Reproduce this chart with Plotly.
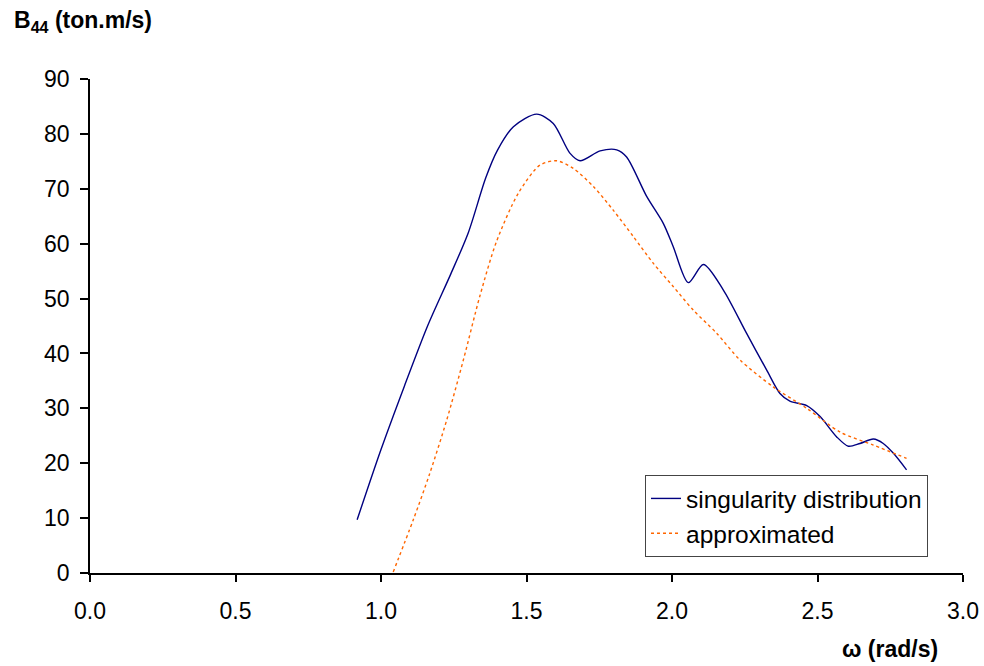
import plotly.graph_objects as go

# singularity distribution
w_sing = [0.918, 1.0, 1.08, 1.16, 1.24, 1.30, 1.36, 1.40, 1.455, 1.535, 1.592, 1.649, 1.684,
          1.753, 1.81, 1.844, 1.913, 1.970, 2.004, 2.056, 2.108, 2.176, 2.256, 2.325, 2.371,
          2.405, 2.463, 2.509, 2.566, 2.606, 2.646, 2.692, 2.726, 2.761, 2.806]
b_sing = [9.7, 22.5, 34.0, 45.0, 54.5, 62.0, 72.0, 77.0, 81.3, 83.6, 81.9, 76.5, 75.1,
          76.9, 77.1, 75.8, 68.6, 63.7, 59.5, 52.9, 56.2, 51.6, 43.7, 37.0, 32.7,
          31.3, 30.5, 28.5, 24.8, 23.1, 23.6, 24.4, 23.6, 21.8, 18.8]

# approximated
w_appr = [1.042, 1.111, 1.168, 1.226, 1.283, 1.340, 1.397, 1.472, 1.546, 1.604,
          1.661, 1.730, 1.798, 1.867, 1.936, 2.004, 2.073, 2.153, 2.234, 2.348, 2.463,
          2.577, 2.692, 2.806]
b_appr = [0.2, 9.7, 18.2, 27.9, 38.8, 50.5, 60.4, 69.2, 74.3, 75.1,
          73.7, 70.4, 66.1, 61.3, 56.4, 52.2, 47.9, 43.7, 38.8, 33.9, 30.0,
          25.7, 23.3, 20.9]

x_ticks = [0.0, 0.5, 1.0, 1.5, 2.0, 2.5, 3.0]
y_ticks = [0, 10, 20, 30, 40, 50, 60, 70, 80, 90]

FONT = "Liberation Sans, Arial, sans-serif"
FS = 23

fig = go.Figure()
fig.add_trace(go.Scatter(x=w_sing, y=b_sing, mode="lines", name="singularity distribution",
                         line=dict(color="#000080", width=1.4, shape="spline", smoothing=0.8)))
fig.add_trace(go.Scatter(x=w_appr, y=b_appr, mode="lines", name="approximated",
                         line=dict(color="#FF6600", width=1.4, dash="dot", shape="spline", smoothing=0.8)))

fig.update_layout(
    width=984, height=666,
    margin=dict(l=90, r=21, t=79, b=93, autoexpand=False),
    paper_bgcolor="white", plot_bgcolor="white",
    font=dict(family=FONT, size=FS, color="black"),
    showlegend=True,
    legend=dict(x=(645 - 90) / 873, y=(573 - 475) / 494, xanchor="left", yanchor="top",
                bordercolor="#444444", borderwidth=1, bgcolor="white",
                font=dict(size=24.5, family=FONT), tracegroupgap=0,
                itemwidth=30),
    xaxis=dict(range=[0, 3.0], tickvals=x_ticks, ticktext=[f"{v:.1f}" for v in x_ticks],
               automargin=False,
               showgrid=False, zeroline=False, showline=True, linecolor="black", linewidth=1.5,
               ticks="outside", ticklen=7, tickcolor="black", tickwidth=1.5,
               ticklabelstandoff=10,
               tickfont=dict(size=FS, family=FONT)),
    yaxis=dict(range=[0, 90], tickvals=y_ticks, automargin=False,
               showgrid=False, zeroline=False, showline=True, linecolor="black", linewidth=1.5,
               ticks="outside", ticklen=8, tickcolor="black", tickwidth=1.5,
               ticklabelstandoff=6,
               tickfont=dict(size=FS, family=FONT)),
    annotations=[
        dict(text="<b>B<sub>44</sub> (ton.m/s)</b>", x=(12 - 90) / 873, y=(573 - 22) / 494,
             xref="paper", yref="paper", xanchor="left", yanchor="middle", showarrow=False,
             font=dict(size=FS, family=FONT)),
        dict(text="<b>ω (rad/s)</b>", x=(940 - 90) / 873, y=(573 - 649) / 494,
             xref="paper", yref="paper", xanchor="right", yanchor="middle", showarrow=False,
             font=dict(size=FS, family=FONT)),
    ],
)

fig.write_html("out.html")
